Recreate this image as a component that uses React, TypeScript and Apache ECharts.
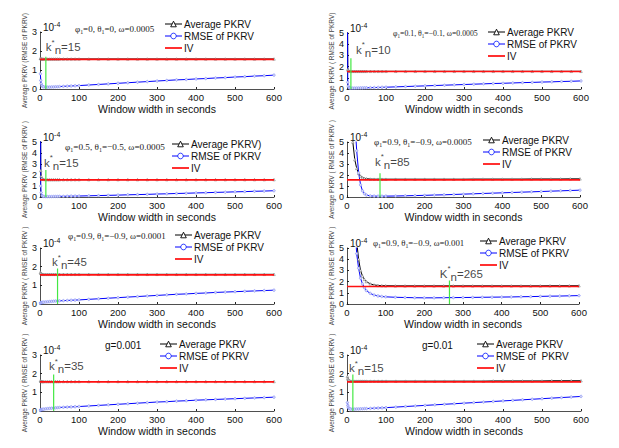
import React, { useEffect, useRef } from "react";
import * as echarts from "echarts";

const WINDOW_WIDTHS = [1, 2, 3, 5, 7, 10, 15, 20, 25, 30, 35, 40, 45, 50, 60, 70, 80, 90, 100, 125, 150, 175, 200, 225, 250, 275, 300, 325, 350, 375, 400, 425, 450, 475, 500, 525, 550, 575, 600];

const AVG_1 = [1.62, 1.60, 1.59, 1.58, 1.58, 1.58, 1.58, 1.58, 1.58, 1.58, 1.58, 1.58, 1.58, 1.58, 1.58, 1.58, 1.58, 1.58, 1.58, 1.58, 1.58, 1.58, 1.58, 1.58, 1.58, 1.58, 1.58, 1.58, 1.58, 1.58, 1.58, 1.58, 1.58, 1.58, 1.58, 1.58, 1.58, 1.58, 1.58];
const RMSE_1 = [0.80, 0.45, 0.28, 0.17, 0.13, 0.11, 0.10, 0.10, 0.10, 0.11, 0.11, 0.12, 0.12, 0.13, 0.14, 0.15, 0.16, 0.17, 0.18, 0.21, 0.24, 0.27, 0.30, 0.33, 0.36, 0.39, 0.42, 0.45, 0.48, 0.50, 0.53, 0.55, 0.58, 0.60, 0.63, 0.65, 0.68, 0.70, 0.73];

const AVG_2 = [9.00, 1.75, 1.65, 1.60, 1.59, 1.58, 1.58, 1.58, 1.58, 1.58, 1.58, 1.58, 1.58, 1.58, 1.58, 1.58, 1.58, 1.58, 1.58, 1.58, 1.58, 1.58, 1.58, 1.58, 1.58, 1.58, 1.58, 1.58, 1.58, 1.58, 1.58, 1.58, 1.58, 1.58, 1.58, 1.58, 1.58, 1.58, 1.58];
const RMSE_2 = [9.00, 0.60, 0.25, 0.12, 0.09, 0.08, 0.08, 0.08, 0.09, 0.09, 0.10, 0.10, 0.11, 0.11, 0.12, 0.13, 0.14, 0.15, 0.16, 0.19, 0.22, 0.25, 0.28, 0.31, 0.34, 0.37, 0.40, 0.43, 0.46, 0.49, 0.51, 0.54, 0.57, 0.59, 0.62, 0.64, 0.67, 0.69, 0.72];

const AVG_3 = [12.0, 2.40, 1.90, 1.70, 1.63, 1.60, 1.58, 1.58, 1.58, 1.58, 1.58, 1.58, 1.58, 1.58, 1.58, 1.58, 1.58, 1.58, 1.58, 1.58, 1.58, 1.58, 1.58, 1.58, 1.58, 1.58, 1.58, 1.58, 1.58, 1.58, 1.58, 1.58, 1.58, 1.58, 1.58, 1.58, 1.58, 1.58, 1.58];
const RMSE_3 = [12.0, 1.00, 0.40, 0.12, 0.07, 0.05, 0.04, 0.04, 0.04, 0.04, 0.05, 0.05, 0.05, 0.06, 0.06, 0.07, 0.08, 0.08, 0.09, 0.11, 0.13, 0.15, 0.17, 0.20, 0.22, 0.24, 0.27, 0.29, 0.32, 0.34, 0.37, 0.39, 0.42, 0.44, 0.47, 0.49, 0.52, 0.54, 0.57];

const AVG_4 = [40.0, 30.0, 22.0, 14.0, 9.50, 6.80, 5.00, 3.40, 2.60, 2.15, 1.90, 1.76, 1.69, 1.66, 1.63, 1.62, 1.62, 1.62, 1.62, 1.62, 1.62, 1.62, 1.62, 1.62, 1.62, 1.62, 1.62, 1.63, 1.63, 1.63, 1.63, 1.63, 1.63, 1.64, 1.64, 1.64, 1.64, 1.65, 1.65];
const RMSE_4 = [60.0, 45.0, 35.0, 25.0, 18.0, 12.0, 9.00, 7.00, 4.20, 2.20, 1.10, 0.55, 0.30, 0.18, 0.10, 0.08, 0.07, 0.07, 0.08, 0.09, 0.11, 0.13, 0.15, 0.18, 0.20, 0.23, 0.26, 0.29, 0.32, 0.35, 0.38, 0.41, 0.44, 0.47, 0.50, 0.53, 0.56, 0.59, 0.62];

const AVG_5 = [1.70, 1.65, 1.62, 1.60, 1.59, 1.59, 1.59, 1.59, 1.59, 1.59, 1.59, 1.59, 1.59, 1.59, 1.59, 1.59, 1.59, 1.59, 1.59, 1.59, 1.59, 1.59, 1.59, 1.59, 1.59, 1.59, 1.59, 1.59, 1.59, 1.59, 1.59, 1.59, 1.59, 1.59, 1.59, 1.59, 1.59, 1.59, 1.59];
const RMSE_5 = [0.05, 0.06, 0.07, 0.08, 0.09, 0.10, 0.11, 0.12, 0.13, 0.14, 0.15, 0.16, 0.16, 0.17, 0.18, 0.19, 0.20, 0.21, 0.22, 0.25, 0.28, 0.31, 0.34, 0.37, 0.40, 0.43, 0.46, 0.49, 0.52, 0.54, 0.57, 0.59, 0.62, 0.64, 0.66, 0.68, 0.70, 0.72, 0.74];

const AVG_6 = [90.0, 70.0, 55.0, 40.0, 30.0, 22.0, 14.0, 9.00, 5.60, 4.00, 3.00, 2.50, 2.20, 2.00, 1.80, 1.70, 1.66, 1.64, 1.63, 1.62, 1.62, 1.62, 1.62, 1.62, 1.62, 1.62, 1.62, 1.62, 1.62, 1.62, 1.62, 1.62, 1.62, 1.62, 1.62, 1.63, 1.63, 1.63, 1.63];
const RMSE_6 = [80.0, 60.0, 45.0, 32.0, 24.0, 17.0, 11.0, 7.50, 4.50, 3.20, 2.30, 1.80, 1.45, 1.20, 0.95, 0.80, 0.72, 0.67, 0.64, 0.60, 0.58, 0.56, 0.55, 0.55, 0.56, 0.57, 0.58, 0.59, 0.60, 0.61, 0.62, 0.63, 0.65, 0.66, 0.68, 0.70, 0.71, 0.73, 0.75];

const AVG_7 = [1.62, 1.60, 1.59, 1.58, 1.58, 1.58, 1.58, 1.58, 1.58, 1.58, 1.58, 1.58, 1.58, 1.58, 1.58, 1.58, 1.58, 1.58, 1.58, 1.58, 1.58, 1.58, 1.58, 1.58, 1.58, 1.58, 1.58, 1.58, 1.58, 1.58, 1.58, 1.58, 1.58, 1.58, 1.58, 1.58, 1.58, 1.58, 1.58];
const RMSE_7 = [0.05, 0.06, 0.07, 0.08, 0.09, 0.10, 0.12, 0.13, 0.14, 0.15, 0.16, 0.17, 0.18, 0.19, 0.20, 0.21, 0.22, 0.23, 0.24, 0.27, 0.30, 0.33, 0.36, 0.39, 0.42, 0.45, 0.48, 0.50, 0.53, 0.55, 0.58, 0.60, 0.62, 0.64, 0.66, 0.68, 0.70, 0.72, 0.74];

const AVG_8 = [1.85, 1.75, 1.70, 1.65, 1.62, 1.60, 1.60, 1.60, 1.60, 1.60, 1.60, 1.60, 1.60, 1.60, 1.60, 1.60, 1.60, 1.60, 1.60, 1.60, 1.60, 1.60, 1.60, 1.60, 1.60, 1.60, 1.60, 1.60, 1.60, 1.61, 1.61, 1.61, 1.61, 1.61, 1.61, 1.62, 1.62, 1.62, 1.62];
const RMSE_8 = [0.45, 0.30, 0.20, 0.14, 0.12, 0.10, 0.10, 0.10, 0.11, 0.11, 0.12, 0.12, 0.13, 0.13, 0.14, 0.15, 0.16, 0.17, 0.18, 0.21, 0.24, 0.27, 0.30, 0.33, 0.36, 0.39, 0.42, 0.45, 0.48, 0.51, 0.54, 0.57, 0.60, 0.63, 0.66, 0.69, 0.72, 0.75, 0.78];

const IV_LEVELS = [1.56, 1.56, 1.56, 1.56, 1.56, 1.56, 1.56, 1.56];
const K_STAR = [15, 10, 15, 85, 45, 265, 35, 15];
const K_LINE_TOP = [1.70, 2.75, 2.45, 2.15, 1.90, 2.10, 1.95, 1.95];
const K_LABEL_POS = [[15, 2.2], [23, 3.5], [10, 3.1], [72, 3.2], [31, 2.25], [240, 2.7], [23, 2.4], [5, 2.3]];
const K_LETTERS = ["k", "k", "k", "k", "k", "K", "k", "k"];
const X_TICKS = { min: 0, max: 600, interval: 100 };
const Y_MAX = [3, 5, 5, 5, 3, 5, 3, 3];
const AVG_NAMES = ["Average PKRV", "Average PKRV", "Average PKRV)", "Average PKRV", "Average PKRV", "Average PKRV", "Average PKRV", "Average PKRV"];
const RMSE_NAMES = ["RMSE of PKRV", "RMSE of PKRV", "RMSE of PKRV", "RMSE of PKRV", "RMSE of PKRV", "RMSE of PKRV", "RMSE of PKRV", "RMSE of  PKRV"];
const Y_TITLES = [
  "Average PKRV (RMSE of PKRV)",
  "Average PKRV ( RMSE of PKRV)",
  "Average PKRV (RMSE of PKRV )",
  "Average PKRV ( RMSE of PKRV )",
  "Average PKRV ( RMSE of PKRV )",
  "Average PKRV ( RMSE of PKRV )",
  "Average PKRV ( RMSE of PKRV )",
  "Average PKRV ( RMSE of PKRV )",
];
const PARAMS = [
  ["0", "0", "0.0005"],
  ["0.1", "\u22120.1", "0.0005"],
  ["0.5", "\u22120.5", "0.0005"],
  ["0.9", "\u22120.9", "0.0005"],
  ["0.9", "\u22120.9", "0.0001"],
  ["0.9", "\u22120.9", "0.001"],
  null,
  null,
];
const G_LABELS = [null, null, null, null, null, null, "g=0.001", "g=0.01"];

const AVGS = [AVG_1, AVG_2, AVG_3, AVG_4, AVG_5, AVG_6, AVG_7, AVG_8];
const RMSES = [RMSE_1, RMSE_2, RMSE_3, RMSE_4, RMSE_5, RMSE_6, RMSE_7, RMSE_8];

// layout (pixels)
const LAYOUT = [
  { left: 40, top: 32, width: 234, height: 57, legend: [164, 19], param: [75, 29], paramSize: 9 },
  { left: 347, top: 33, width: 234, height: 56, legend: [487, 27], param: [393, 33], paramSize: 7.8 },
  { left: 40, top: 142, width: 234, height: 55, legend: [171, 139], param: [65, 147], paramSize: 9.2 },
  { left: 347, top: 142, width: 233, height: 55, legend: [482, 135], param: [374, 142], paramSize: 9 },
  { left: 40, top: 248, width: 234, height: 56, legend: [174, 230], param: [68, 236], paramSize: 9 },
  { left: 347, top: 248, width: 232, height: 56, legend: [479, 236], param: [373, 243], paramSize: 8.8 },
  { left: 40, top: 355, width: 234, height: 56, legend: [159, 339], param: [105, 345], paramSize: 10 },
  { left: 347, top: 355, width: 234, height: 56, legend: [476, 339], param: [422, 345], paramSize: 10 },
];

const SANS = "Liberation Sans, Arial, sans-serif";
const SERIF = "Liberation Serif, Times New Roman, serif";
const CLEAR = "rgba(0,0,0,0)";

function buildOption() {
  const grid: any[] = [];
  const xAxis: any[] = [];
  const yAxis: any[] = [];
  const legend: any[] = [];
  const series: any[] = [];
  const graphic: any[] = [];

  LAYOUT.forEach((L, i) => {
    grid.push({ left: L.left, top: L.top, width: L.width, height: L.height, containLabel: false });
    xAxis.push({
      type: "value",
      gridIndex: i,
      min: X_TICKS.min,
      max: X_TICKS.max,
      interval: X_TICKS.interval,
      axisLine: { show: true, onZero: false, lineStyle: { color: "#222", width: 0.8 } },
      axisTick: { show: true, inside: true, length: 2, lineStyle: { color: "#222" } },
      splitLine: { show: false },
      axisLabel: { fontSize: 9.5, color: "#111", margin: 3, fontFamily: SANS },
      name: "Window width in seconds",
      nameLocation: "middle",
      nameGap: 14,
      nameTextStyle: { fontSize: 10.5, color: "#111", fontFamily: SANS },
    });
    yAxis.push({
      type: "value",
      gridIndex: i,
      min: 0,
      max: Y_MAX[i],
      interval: 1,
      axisLine: { show: true, onZero: false, lineStyle: { color: "#222", width: 0.8 } },
      axisTick: { show: true, inside: true, length: 2, lineStyle: { color: "#222" } },
      splitLine: { show: false },
      axisLabel: { fontSize: 9, color: "#111", margin: 3, fontFamily: SANS },
      name: Y_TITLES[i],
      nameLocation: "middle",
      nameGap: 10,
      nameRotate: 90,
      nameTextStyle: { fontSize: 6.5, color: "#444", fontFamily: SANS },
    });
    legend.push({
      orient: "vertical",
      left: L.legend[0],
      top: L.legend[1],
      padding: 0,
      itemWidth: 17,
      itemHeight: 7,
      itemGap: 2,
      selectedMode: false,
      textStyle: { fontSize: 10, color: "#111", fontFamily: SANS, padding: [0, 0, 0, -3] },
      data: [
        {
          name: AVG_NAMES[i],
          itemStyle: { color: "#fff", borderColor: "#000", borderWidth: 0.9 },
          lineStyle: { color: "#000", width: 1 },
        },
        {
          name: RMSE_NAMES[i],
          itemStyle: { color: "#fff", borderColor: "#1020ff", borderWidth: 0.9 },
          lineStyle: { color: "#0000ff", width: 1 },
        },
        {
          name: "IV",
          itemStyle: { color: CLEAR, borderColor: CLEAR, borderWidth: 0 },
          lineStyle: { color: "#ff3030", width: 2 },
        },
      ],
    });

    const avg = AVGS[i];
    const rmse = RMSES[i];
    series.push({
      type: "line",
      name: AVG_NAMES[i],
      xAxisIndex: i,
      yAxisIndex: i,
      data: WINDOW_WIDTHS.map((w, j) => [w, avg[j]]),
      symbol: "triangle",
      symbolSize: 2.5,
      showSymbol: true,
      clip: true,
      lineStyle: { color: "#000", width: 1 },
      itemStyle: { color: "#fff", borderColor: "#666", borderWidth: 0.5 },
      z: 2,
    });
    series.push({
      type: "line",
      name: RMSE_NAMES[i],
      xAxisIndex: i,
      yAxisIndex: i,
      data: WINDOW_WIDTHS.map((w, j) => [w, rmse[j]]),
      symbol: "circle",
      symbolSize: 2.5,
      showSymbol: true,
      clip: true,
      lineStyle: { color: "#0000ff", width: 1 },
      itemStyle: { color: "#dde", borderColor: "#6677ff", borderWidth: 0.5 },
      z: 2,
    });
    series.push({
      type: "line",
      name: "IV",
      xAxisIndex: i,
      yAxisIndex: i,
      data: [[X_TICKS.min, IV_LEVELS[i]], [X_TICKS.max, IV_LEVELS[i]]],
      symbol: "circle",
      showSymbol: false,
      lineStyle: { color: "#ff1010", width: 1.6 },
      itemStyle: { color: CLEAR },
      z: 3,
    });
    series.push({
      type: "line",
      name: "k" + i,
      xAxisIndex: i,
      yAxisIndex: i,
      data: [[K_STAR[i], 0], [K_STAR[i], K_LINE_TOP[i]]],
      symbol: "none",
      lineStyle: { color: "#44e844", width: 1.2 },
      z: 4,
    });
    series.push({
      type: "scatter",
      name: "lab" + i,
      xAxisIndex: i,
      yAxisIndex: i,
      symbolSize: 0,
      silent: true,
      z: 5,
      data: [
        {
          value: K_LABEL_POS[i],
          label: {
            show: true,
            position: [0, 0],
            align: "left",
            verticalAlign: "middle",
            formatter: "{k|" + K_LETTERS[i] + "}{st|*}{n|n}{r|=" + K_STAR[i] + "}",
            rich: {
              k: { fontSize: 11.5, lineHeight: 18, color: "#111", fontFamily: SANS },
              st: { fontSize: 8, lineHeight: 8, verticalAlign: "top", color: "#111", fontFamily: SANS },
              n: { fontSize: 11.5, lineHeight: 9, verticalAlign: "bottom", color: "#111", fontFamily: SANS },
              r: { fontSize: 11.5, lineHeight: 18, color: "#111", fontFamily: SANS },
            },
          },
        },
      ],
    });

    // exponent label
    graphic.push({
      type: "text",
      x: L.left + 3,
      y: L.top - 5,
      silent: true,
      style: {
        text: "{b|10}{s|-4}",
        verticalAlign: "middle",
        rich: {
          b: { fontSize: 10, lineHeight: 12, fill: "#111", fontFamily: SANS },
          s: { fontSize: 7, lineHeight: 7, verticalAlign: "top", fill: "#111", fontFamily: SANS },
        },
      },
    });

    const p = PARAMS[i];
    if (p) {
      const fs = L.paramSize;
      graphic.push({
        type: "text",
        x: L.param[0],
        y: L.param[1],
        silent: true,
        style: {
          text: "{t|\u03c6}{s|1}{t|=" + p[0] + ", \u03b8}{s|1}{t|=" + p[1] + ", \u03c9=" + p[2] + "}",
          verticalAlign: "middle",
          rich: {
            t: { fontSize: fs, lineHeight: fs + 3, fill: "#222", fontFamily: SERIF },
            s: { fontSize: fs * 0.65, lineHeight: fs * 0.6, verticalAlign: "bottom", fill: "#222", fontFamily: SERIF },
          },
        },
      });
    } else if (G_LABELS[i]) {
      graphic.push({
        type: "text",
        x: L.param[0],
        y: L.param[1],
        silent: true,
        style: {
          text: G_LABELS[i],
          fontSize: L.paramSize,
          fontFamily: SANS,
          fill: "#111",
          verticalAlign: "middle",
        },
      });
    }
  });

  return {
    animation: false,
    backgroundColor: "#fff",
    grid,
    xAxis,
    yAxis,
    legend,
    series,
    graphic,
  };
}

export default function App() {
  const ref = useRef<HTMLDivElement>(null);
  useEffect(() => {
    document.body.style.margin = "0";
    if (!ref.current) return;
    const chart = echarts.init(ref.current, undefined, { renderer: "svg" });
    chart.setOption(buildOption() as any);
    return () => chart.dispose();
  }, []);
  return <div ref={ref} style={{ width: 619, height: 448 }} />;
}
